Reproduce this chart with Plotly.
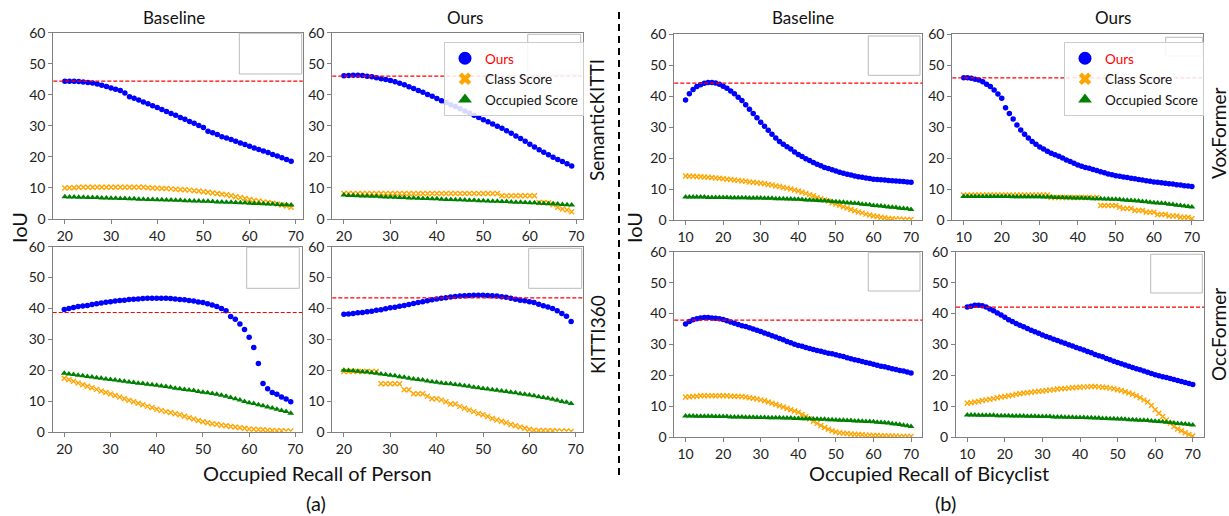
import plotly.graph_objects as go

W, H = 1229, 516

# ---------------- data ----------------
recall_person = list(range(20, 70))      # 20 .. 69
recall_bicyclist = list(range(10, 71))   # 10 .. 70

# Person / SemanticKITTI / Baseline
p_sk_base_ours = [44.4, 44.4, 44.4, 44.3, 44.1, 44.0, 43.8, 43.5, 43.1, 42.7,
                  42.2, 41.8, 41.4, 40.6, 39.4, 38.9, 38.3, 37.7, 37.1, 36.5,
                  35.9, 35.3, 34.6, 34.0, 33.4, 32.7, 32.1, 31.4, 30.8, 30.1,
                  29.5, 28.3, 27.8, 27.2, 26.5, 26.1, 25.6, 25.0, 24.5, 24.0,
                  23.4, 22.9, 22.4, 21.9, 21.4, 20.8, 20.3, 19.7, 19.2, 18.6]
p_sk_base_class = [10.0, 10.1, 10.1, 10.2, 10.2, 10.2, 10.2, 10.2, 10.2, 10.2,
                   10.2, 10.2, 10.2, 10.2, 10.2, 10.2, 10.2, 10.2, 10.1, 10.0,
                   9.9, 9.8, 9.8, 9.7, 9.6, 9.5, 9.4, 9.3, 9.1, 9.0,
                   8.8, 8.6, 8.4, 8.2, 8.0, 7.8, 7.5, 7.2, 6.9, 6.6,
                   6.3, 6.0, 5.8, 5.5, 5.3, 5.1, 4.8, 4.5, 4.2, 3.8]
p_sk_base_occ = [7.2, 7.1, 7.1, 7.0, 7.0, 6.9, 6.9, 6.9, 6.8, 6.8,
                 6.7, 6.7, 6.6, 6.6, 6.5, 6.5, 6.4, 6.4, 6.3, 6.3,
                 6.2, 6.2, 6.1, 6.1, 6.0, 6.0, 5.9, 5.9, 5.8, 5.8,
                 5.7, 5.7, 5.6, 5.5, 5.5, 5.4, 5.4, 5.3, 5.2, 5.2,
                 5.1, 5.0, 5.0, 4.9, 4.8, 4.8, 4.7, 4.6, 4.6, 4.5]

# Person / SemanticKITTI / Ours
p_sk_ours_ours = [46.1, 46.2, 46.3, 46.3, 46.2, 46.0, 45.8, 45.5, 45.2, 44.9,
                  44.6, 44.2, 43.7, 43.2, 42.6, 42.0, 41.4, 40.8, 40.1, 39.5,
                  38.8, 38.1, 37.5, 36.8, 36.2, 35.5, 34.8, 34.1, 33.4, 32.7,
                  32.0, 31.3, 30.6, 29.9, 29.2, 28.4, 27.6, 26.7, 25.9, 25.0,
                  24.1, 23.2, 22.3, 21.5, 20.7, 19.9, 19.2, 18.5, 17.8, 17.1]
p_sk_ours_class = [8.2, 8.2, 8.2, 8.2, 8.2, 8.2, 8.2, 8.2, 8.2, 8.2,
                   8.2, 8.2, 8.2, 8.2, 8.2, 8.2, 8.2, 8.2, 8.2, 8.2,
                   8.2, 8.2, 8.2, 8.2, 8.2, 8.2, 8.2, 8.2, 8.2, 8.2,
                   8.2, 8.2, 8.2, 8.2, 7.5, 7.5, 7.5, 7.5, 7.5, 7.5,
                   7.5, 7.5, 5.3, 5.3, 5.2, 4.6, 3.8, 3.2, 2.9, 2.3]
p_sk_ours_occ = [7.7, 7.6, 7.6, 7.5, 7.4, 7.4, 7.3, 7.3, 7.2, 7.1,
                 7.1, 7.0, 6.9, 6.9, 6.8, 6.8, 6.7, 6.6, 6.6, 6.5,
                 6.5, 6.4, 6.3, 6.3, 6.2, 6.2, 6.1, 6.0, 6.0, 5.9,
                 5.9, 5.8, 5.7, 5.7, 5.6, 5.6, 5.5, 5.4, 5.4, 5.3,
                 5.2, 5.2, 5.1, 5.0, 4.9, 4.9, 4.8, 4.7, 4.6, 4.5]

# Person / KITTI360 / Baseline
p_k3_base_ours = [39.7, 40.0, 40.3, 40.6, 40.8, 41.0, 41.3, 41.5, 41.8, 42.0,
                  42.2, 42.4, 42.6, 42.7, 42.9, 43.0, 43.1, 43.2, 43.3, 43.3,
                  43.3, 43.3, 43.3, 43.2, 43.1, 42.9, 42.8, 42.6, 42.4, 42.1,
                  41.9, 41.5, 41.1, 40.6, 40.0, 39.3, 37.4, 36.5, 35.0, 33.2,
                  30.7, 27.4, 22.2, 15.7, 14.0, 12.8, 12.2, 11.3, 10.7, 9.8]
p_k3_base_class = [17.4, 16.9, 16.4, 15.9, 15.3, 14.8, 14.3, 13.8, 13.3, 12.8,
                   12.3, 11.8, 11.3, 10.8, 10.3, 9.8, 9.3, 8.8, 8.3, 7.9,
                   7.4, 7.0, 6.6, 6.3, 5.9, 5.6, 5.1, 4.6, 4.2, 3.7,
                   3.3, 3.0, 2.7, 2.5, 2.2, 2.0, 1.8, 1.6, 1.4, 1.2,
                   1.0, 0.9, 0.8, 0.7, 0.6, 0.5, 0.4, 0.4, 0.3, 0.3]
p_k3_base_occ = [19.0, 18.8, 18.6, 18.4, 18.2, 18.0, 17.8, 17.6, 17.4, 17.2,
                 17.0, 16.8, 16.6, 16.4, 16.2, 16.0, 15.8, 15.7, 15.5, 15.3,
                 15.1, 14.9, 14.7, 14.5, 14.2, 14.0, 13.8, 13.6, 13.4, 13.1,
                 12.9, 12.7, 12.5, 12.2, 11.9, 11.6, 11.2, 10.8, 10.4, 9.9,
                 9.5, 9.2, 8.8, 8.5, 8.1, 7.8, 7.4, 7.0, 6.6, 6.1]

# Person / KITTI360 / Ours
p_k3_ours_ours = [38.1, 38.2, 38.4, 38.6, 38.7, 38.9, 39.1, 39.4, 39.6, 39.9,
                  40.2, 40.4, 40.7, 41.0, 41.3, 41.6, 41.9, 42.2, 42.5, 42.8,
                  43.1, 43.3, 43.5, 43.7, 43.9, 44.0, 44.1, 44.2, 44.3, 44.3,
                  44.3, 44.2, 44.1, 44.0, 43.8, 43.6, 43.3, 43.0, 42.7, 42.5,
                  42.2, 41.9, 41.4, 40.9, 40.5, 40.0, 39.3, 38.4, 37.5, 35.8]
p_k3_ours_class = [19.6, 19.6, 19.6, 19.6, 19.6, 19.6, 19.6, 19.6, 15.6, 15.6,
                   15.6, 15.6, 15.6, 13.7, 13.7, 12.4, 12.4, 12.4, 11.6, 10.8,
                   10.8, 10.4, 9.8, 9.1, 9.1, 8.3, 7.7, 7.1, 6.6, 6.0,
                   5.6, 5.0, 4.4, 3.9, 3.5, 3.0, 2.4, 2.0, 1.6, 1.2,
                   0.9, 0.6, 0.5, 0.5, 0.4, 0.4, 0.3, 0.3, 0.3, 0.2]
p_k3_ours_occ = [20.0, 19.9, 19.8, 19.7, 19.5, 19.4, 19.2, 19.0, 18.8, 18.6,
                 18.4, 18.2, 17.9, 17.7, 17.4, 17.2, 17.0, 16.8, 16.5, 16.3,
                 16.1, 15.9, 15.7, 15.6, 15.4, 15.2, 15.0, 14.8, 14.5, 14.3,
                 14.1, 13.9, 13.7, 13.5, 13.3, 13.1, 12.9, 12.7, 12.4, 12.2,
                 12.0, 11.7, 11.4, 11.2, 10.9, 10.6, 10.3, 9.9, 9.6, 9.2]

# Bicyclist / VoxFormer / Baseline
b_vox_base_ours = [38.8, 40.8, 42.2, 43.1, 43.7, 44.2, 44.4, 44.4, 44.3, 43.9,
                   43.2, 42.6, 41.7, 40.8, 39.7, 38.6, 37.2, 35.8, 34.4, 33.0,
                   31.6, 30.3, 29.0, 27.7, 26.5, 25.4, 24.5, 23.7, 22.9, 22.0,
                   21.2, 20.5, 19.8, 19.2, 18.6, 18.0, 17.5, 17.0, 16.6, 16.2,
                   15.8, 15.4, 15.1, 14.8, 14.5, 14.2, 14.0, 13.8, 13.6, 13.4,
                   13.2, 13.1, 13.0, 12.9, 12.8, 12.7, 12.6, 12.5, 12.4, 12.3, 12.2]
b_vox_base_class = [14.2, 14.1, 14.1, 14.0, 14.0, 13.9, 13.8, 13.7, 13.6, 13.5,
                    13.3, 13.2, 13.1, 12.9, 12.8, 12.6, 12.5, 12.3, 12.2, 12.0,
                    11.9, 11.7, 11.5, 11.3, 11.0, 10.8, 10.5, 10.3, 10.0, 9.7,
                    9.4, 9.0, 8.6, 8.2, 7.8, 7.3, 6.9, 6.5, 6.1, 5.6,
                    5.2, 4.8, 4.3, 3.9, 3.4, 3.0, 2.6, 2.3, 1.9, 1.6,
                    1.3, 1.1, 0.9, 0.7, 0.5, 0.4, 0.3, 0.3, 0.2, 0.2, 0.2]
b_vox_base_occ = [7.4, 7.4, 7.4, 7.4, 7.4, 7.4, 7.3, 7.3, 7.3, 7.3,
                  7.3, 7.3, 7.2, 7.2, 7.2, 7.2, 7.2, 7.1, 7.1, 7.1,
                  7.1, 7.0, 7.0, 7.0, 6.9, 6.9, 6.9, 6.8, 6.8, 6.7,
                  6.7, 6.6, 6.5, 6.5, 6.4, 6.3, 6.2, 6.2, 6.1, 6.0,
                  5.9, 5.8, 5.7, 5.6, 5.5, 5.4, 5.3, 5.1, 5.0, 4.9,
                  4.7, 4.6, 4.5, 4.4, 4.2, 4.1, 4.0, 3.8, 3.7, 3.6, 3.4]

# Bicyclist / VoxFormer / Ours
b_vox_ours_ours = [46.0, 46.0, 45.8, 45.5, 45.2, 44.7, 43.9, 43.1, 42.0, 40.7,
                   39.3, 36.3, 34.4, 32.6, 30.7, 29.1, 27.7, 26.5, 25.4, 24.5,
                   23.6, 22.9, 22.2, 21.6, 21.1, 20.6, 20.0, 19.4, 18.9, 18.3,
                   17.8, 17.4, 17.0, 16.7, 16.3, 16.0, 15.6, 15.3, 14.9, 14.6,
                   14.3, 14.1, 13.9, 13.7, 13.5, 13.3, 13.1, 12.9, 12.7, 12.5,
                   12.3, 12.2, 12.0, 11.9, 11.7, 11.6, 11.4, 11.3, 11.1, 11.0, 10.8]
b_vox_ours_class = [8.1, 8.1, 8.1, 8.1, 8.1, 8.1, 8.1, 8.1, 8.1, 8.1,
                    8.1, 8.1, 8.1, 8.1, 8.1, 8.1, 8.1, 8.1, 8.1, 8.1,
                    8.1, 8.1, 8.1, 7.3, 7.3, 7.3, 7.3, 7.3, 7.3, 7.3,
                    7.3, 7.3, 7.3, 7.3, 7.3, 7.3, 4.7, 4.7, 4.7, 4.7,
                    4.7, 4.1, 3.7, 3.7, 3.7, 3.1, 3.1, 3.1, 2.5, 2.5,
                    2.5, 1.8, 1.8, 1.8, 1.3, 1.3, 1.3, 0.9, 0.9, 0.9, 0.4]
b_vox_ours_occ = [7.6, 7.6, 7.6, 7.6, 7.6, 7.6, 7.6, 7.6, 7.6, 7.6,
                  7.6, 7.6, 7.6, 7.5, 7.5, 7.5, 7.5, 7.5, 7.5, 7.5,
                  7.5, 7.4, 7.4, 7.4, 7.3, 7.3, 7.3, 7.2, 7.2, 7.1,
                  7.1, 7.1, 7.0, 7.0, 6.9, 6.9, 6.9, 6.8, 6.8, 6.7,
                  6.7, 6.6, 6.5, 6.4, 6.3, 6.2, 6.1, 6.0, 5.9, 5.7,
                  5.6, 5.5, 5.4, 5.3, 5.1, 5.0, 4.8, 4.7, 4.5, 4.4, 4.2]

# Bicyclist / OccFormer / Baseline
b_occ_base_ours = [36.6, 37.4, 38.0, 38.3, 38.6, 38.7, 38.7, 38.6, 38.5, 38.3,
                   38.1, 37.7, 37.3, 36.9, 36.5, 36.1, 35.8, 35.4, 35.0, 34.6,
                   34.2, 33.7, 33.3, 32.8, 32.4, 31.9, 31.5, 31.0, 30.6, 30.1,
                   29.7, 29.4, 29.0, 28.7, 28.4, 28.1, 27.8, 27.5, 27.2, 27.0,
                   26.7, 26.4, 26.1, 25.7, 25.4, 25.1, 24.8, 24.5, 24.2, 23.9,
                   23.6, 23.3, 23.0, 22.8, 22.5, 22.2, 21.9, 21.6, 21.4, 21.1, 20.8]
b_occ_base_class = [13.0, 13.1, 13.2, 13.3, 13.4, 13.4, 13.4, 13.4, 13.4, 13.4,
                    13.4, 13.4, 13.3, 13.3, 13.2, 13.2, 13.0, 12.8, 12.6, 12.4,
                    12.1, 11.8, 11.4, 11.0, 10.6, 10.2, 9.8, 9.3, 8.9, 8.5,
                    8.1, 7.4, 6.7, 6.0, 5.2, 4.5, 3.8, 3.2, 2.6, 2.1,
                    1.7, 1.5, 1.3, 1.2, 1.1, 1.0, 0.9, 0.8, 0.7, 0.7,
                    0.6, 0.6, 0.5, 0.5, 0.4, 0.4, 0.4, 0.3, 0.3, 0.3, 0.3]
b_occ_base_occ = [6.9, 6.9, 6.9, 6.8, 6.8, 6.8, 6.8, 6.8, 6.7, 6.7,
                  6.7, 6.7, 6.6, 6.6, 6.6, 6.6, 6.5, 6.5, 6.5, 6.4,
                  6.4, 6.4, 6.3, 6.3, 6.3, 6.3, 6.2, 6.2, 6.2, 6.1,
                  6.1, 6.0, 6.0, 6.0, 5.9, 5.9, 5.8, 5.8, 5.7, 5.7,
                  5.6, 5.5, 5.5, 5.4, 5.4, 5.3, 5.3, 5.2, 5.1, 5.1,
                  5.0, 4.9, 4.8, 4.7, 4.6, 4.4, 4.3, 4.1, 3.9, 3.7, 3.5]

# Bicyclist / OccFormer / Ours
b_occ_ours_ours = [42.1, 42.4, 42.7, 42.7, 42.5, 42.1, 41.5, 40.9, 40.2, 39.5,
                   38.8, 38.0, 37.4, 36.8, 36.2, 35.7, 35.2, 34.6, 34.1, 33.6,
                   33.1, 32.6, 32.2, 31.7, 31.3, 30.8, 30.4, 29.9, 29.5, 29.0,
                   28.6, 28.2, 27.7, 27.3, 26.8, 26.4, 26.0, 25.5, 25.1, 24.6,
                   24.2, 23.8, 23.4, 23.0, 22.6, 22.2, 21.8, 21.4, 21.0, 20.6,
                   20.2, 19.9, 19.6, 19.3, 19.0, 18.7, 18.4, 18.0, 17.7, 17.4, 17.1]
b_occ_ours_class = [11.0, 11.2, 11.4, 11.6, 11.9, 12.1, 12.3, 12.5, 12.8, 13.0,
                    13.2, 13.4, 13.6, 13.9, 14.1, 14.3, 14.4, 14.6, 14.7, 14.9,
                    15.0, 15.1, 15.3, 15.4, 15.6, 15.7, 15.8, 15.9, 16.0, 16.1,
                    16.2, 16.3, 16.3, 16.4, 16.4, 16.3, 16.2, 16.1, 15.9, 15.7,
                    15.4, 15.1, 14.7, 14.3, 13.9, 13.4, 12.8, 12.1, 11.4, 10.3,
                    8.9, 7.8, 6.7, 5.6, 4.5, 3.5, 2.7, 2.1, 1.5, 0.9, 0.4]
b_occ_ours_occ = [7.2, 7.2, 7.2, 7.1, 7.1, 7.1, 7.1, 7.1, 7.0, 7.0,
                  7.0, 7.0, 6.9, 6.9, 6.9, 6.9, 6.8, 6.8, 6.8, 6.7,
                  6.7, 6.7, 6.7, 6.6, 6.6, 6.6, 6.5, 6.5, 6.5, 6.4,
                  6.4, 6.4, 6.3, 6.3, 6.2, 6.2, 6.1, 6.1, 6.0, 6.0,
                  5.9, 5.9, 5.8, 5.7, 5.7, 5.6, 5.5, 5.5, 5.4, 5.3,
                  5.2, 5.1, 5.0, 4.9, 4.8, 4.6, 4.5, 4.4, 4.3, 4.1, 4.0]

# reference IoU (red dashed lines), one per panel
ref_iou = [44.4, 46.0, 38.7, 43.4, 44.2, 45.9, 37.9, 42.1]

series_names = ["Ours", "Class Score", "Occupied Score"]
y_ticks = [0, 10, 20, 30, 40, 50, 60]
person_ticks = [20, 30, 40, 50, 60, 70]
bicyclist_ticks = [10, 20, 30, 40, 50, 60, 70]

# ---------------- layout description (pixels) ----------------
panels = [
    # x data, (ours, class, occ), x range, ticks, frame px (x0, x1, y0, y1), empty box px
    (recall_person, (p_sk_base_ours, p_sk_base_class, p_sk_base_occ), [17.5, 71.5], person_ticks,
     (53.3, 302.7, 32.7, 219.0), (239.3, 33.3, 301.7, 74.0)),
    (recall_person, (p_sk_ours_ours, p_sk_ours_class, p_sk_ours_occ), [17.5, 71.5], person_ticks,
     (332.3, 583.3, 32.7, 219.0), (527.7, 34.3, 580.7, 75.0)),
    (recall_person, (p_k3_base_ours, p_k3_base_class, p_k3_base_occ), [17.5, 71.5], person_ticks,
     (52.7, 302.3, 246.7, 432.0), (246.7, 247.3, 299.3, 288.3)),
    (recall_person, (p_k3_ours_ours, p_k3_ours_class, p_k3_ours_occ), [17.5, 71.5], person_ticks,
     (332.3, 582.7, 246.7, 432.0), (528.7, 248.3, 581.7, 288.3)),
    (recall_bicyclist, (b_vox_base_ours, b_vox_base_class, b_vox_base_occ), [7, 73], bicyclist_ticks,
     (674.3, 922.3, 34.3, 220.0), (868.3, 36.0, 920.0, 75.3)),
    (recall_bicyclist, (b_vox_ours_ours, b_vox_ours_class, b_vox_ours_occ), [7, 73], bicyclist_ticks,
     (952.3, 1203.3, 34.3, 220.0), (1165.7, 37.3, 1202.7, 56.0)),
    (recall_bicyclist, (b_occ_base_ours, b_occ_base_class, b_occ_base_occ), [7, 73], bicyclist_ticks,
     (674.3, 922.3, 251.7, 437.3), (868.3, 252.3, 920.0, 291.0)),
    (recall_bicyclist, (b_occ_ours_ours, b_occ_ours_class, b_occ_ours_occ), [7, 73], bicyclist_ticks,
     (956.0, 1204.0, 251.7, 437.3), (1150.7, 254.3, 1202.3, 293.0)),
]

FONT = "Lato"
BLUE, ORANGE, GREEN, RED = "#0000ff", "#ffa500", "#008000", "#ff0000"
FRAME = "#808080"


def px(x):
    return x / W


def py(y):
    return 1 - y / H


fig = go.Figure()
layout = dict(
    template="none",
    width=W, height=H, autosize=False, margin=dict(l=0, r=0, t=0, b=0, pad=0),
    paper_bgcolor="white", plot_bgcolor="white",
    font=dict(family=FONT, color="#111"),
    showlegend=True,
)
shapes = []
annotations = []

for i, (xs, ys3, xr, xt, frame, box) in enumerate(panels, start=1):
    xa = "x" if i == 1 else f"x{i}"
    ya = "y" if i == 1 else f"y{i}"
    ours, cls, occ = ys3
    fig.add_trace(go.Scatter(
        x=xs, y=cls, mode="markers", xaxis=xa, yaxis=ya, showlegend=False, hoverinfo="skip",
        marker=dict(symbol="x-thin", size=5, color=ORANGE, line=dict(width=1.4, color=ORANGE))))
    fig.add_trace(go.Scatter(
        x=xs, y=occ, mode="markers", xaxis=xa, yaxis=ya, showlegend=False, hoverinfo="skip",
        marker=dict(symbol="triangle-up", size=6, color=GREEN, line=dict(width=0))))
    fig.add_trace(go.Scatter(
        x=xs, y=ours, mode="markers", xaxis=xa, yaxis=ya, showlegend=False, hoverinfo="skip",
        marker=dict(symbol="circle", size=5.5, color=BLUE, line=dict(width=0))))
    x0, x1, y0, y1 = frame
    axstyle = dict(showgrid=False, zeroline=False, showline=True, linecolor=FRAME,
                   linewidth=1, mirror=True, ticks="outside", ticklen=4, automargin=False,
                   tickcolor=FRAME, tickfont=dict(family=FONT, size=14, color="#222"))
    layout["xaxis" if i == 1 else f"xaxis{i}"] = dict(
        domain=[px(x0), px(x1)], range=xr, tickvals=xt, anchor=ya, **axstyle)
    layout["yaxis" if i == 1 else f"yaxis{i}"] = dict(
        domain=[py(y1), py(y0)], range=[0, 60], tickvals=y_ticks, anchor=xa, **axstyle)
    # reference dashed line
    shapes.append(dict(type="line", xref=f"{xa} domain", yref=ya, x0=0, x1=1,
                       y0=ref_iou[i - 1], y1=ref_iou[i - 1],
                       line=dict(color=RED, width=1.2, dash="4px,2px")))
    # empty inset box
    bx0, by0, bx1, by1 = box
    shapes.append(dict(type="rect", xref="paper", yref="paper",
                       x0=px(bx0), x1=px(bx1), y0=py(by1), y1=py(by0),
                       line=dict(color="#bbbbbb", width=1), fillcolor="rgba(0,0,0,0)"))

# legend-only traces (larger markers like the reference legends)
for legend_id in ["legend", "legend2"]:
    fig.add_trace(go.Scatter(
        x=[None], y=[None], mode="markers", legend=legend_id,
        name=f'<span style="color:{RED}">{series_names[0]}</span>',
        marker=dict(symbol="circle", size=13, color=BLUE)))
    fig.add_trace(go.Scatter(
        x=[None], y=[None], mode="markers", legend=legend_id, name=series_names[1],
        marker=dict(symbol="x", size=11, color=ORANGE)))
    fig.add_trace(go.Scatter(
        x=[None], y=[None], mode="markers", legend=legend_id, name=series_names[2],
        marker=dict(symbol="triangle-up", size=12, color=GREEN)))

legend_common = dict(
    xanchor="left", yanchor="top", bgcolor="rgba(255,255,255,0.85)",
    bordercolor="#cccccc", borderwidth=1, font=dict(family=FONT, size=13.5, color="#111"),
    itemwidth=30, tracegroupgap=0, itemclick=False, itemdoubleclick=False)
layout["legend"] = dict(x=px(444), y=py(42), **legend_common)
layout["legend2"] = dict(x=px(1064), y=py(42), **legend_common)

# divider between (a) and (b)
shapes.append(dict(type="line", xref="paper", yref="paper",
                   x0=px(619), x1=px(619), y0=py(12), y1=py(480),
                   line=dict(color="black", width=2, dash="7px,5px")))


def text(x, y, s, size, angle=0):
    annotations.append(dict(x=px(x), y=py(y), xref="paper", yref="paper", text=s,
                            showarrow=False, xanchor="center", yanchor="middle",
                            textangle=angle, borderpad=0,
                            font=dict(family=FONT, size=size, color="#111")))


text(174, 17, "Baseline", 17)
text(465, 17, "Ours", 17)
text(803, 17, "Baseline", 17)
text(1113, 17, "Ours", 17)
text(597, 120, "SemanticKITTI", 19, -90)
text(597, 335, "KITTI360", 19, -90)
text(1218, 134, "VoxFormer", 19, -90)
text(1218, 335, "OccFormer", 19, -90)
text(19, 228, "IoU", 20, -90)
text(634, 228, "IoU", 20, -90)
text(317, 473, "Occupied Recall of Person", 20)
text(929, 473, "Occupied Recall of Bicyclist", 20)
text(316, 503, "(a)", 20)
text(945, 503, "(b)", 20)

layout["shapes"] = shapes
layout["annotations"] = annotations
fig.update_layout(**layout)

fig.write_html(
    "out.html",
    config={"displayModeBar": False},
    post_script="document.body.style.margin='0';document.body.style.overflow='hidden';",
)
